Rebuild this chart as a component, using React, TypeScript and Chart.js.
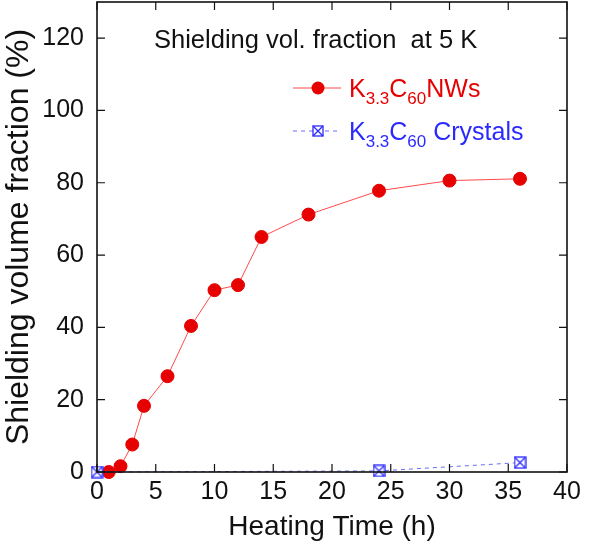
import React, { useEffect, useRef } from "react";
import { Chart, registerables } from "chart.js";
Chart.register(...registerables);

const nwTimes = [1, 2, 3, 4, 6, 8, 10, 12, 14, 18, 24, 30, 36];
const nwValues = [0, 1.6, 7.6, 18.3, 26.5, 40.4, 50.3, 51.7, 65, 71.2, 77.8, 80.6, 81.1];
const crTimes = [0, 24, 36];
const crValues = [0, 0.3, 2.6];
const xTicks = [0, 5, 10, 15, 20, 25, 30, 35, 40];
const yTicks = [0, 20, 40, 60, 80, 100, 120];
const titleText = "Shielding vol. fraction  at 5 K";
const xTitle = "Heating Time (h)";
const yTitle = "Shielding volume fraction (%)";

const FONT = "'Liberation Sans', Arial, Helvetica, sans-serif";
const RED = "#e60000";
const RED_LINE = "#ff4a4a";
const BLUE = "#2a2aff";
const BLUE_LINE = "#6a6aff";

function makeCrossBox(size: number, color: string) {
  const c = document.createElement("canvas");
  c.width = size + 2;
  c.height = size + 2;
  const g = c.getContext("2d")!;
  g.strokeStyle = color;
  g.lineWidth = 1.3;
  g.fillStyle = "#ffffff";
  g.fillRect(1, 1, size, size);
  g.strokeRect(1, 1, size, size);
  g.beginPath();
  g.moveTo(1, 1);
  g.lineTo(1 + size, 1 + size);
  g.moveTo(1 + size, 1);
  g.lineTo(1, 1 + size);
  g.stroke();
  return c;
}

function drawSubText(ctx: CanvasRenderingContext2D, x: number, y: number, parts: [string, boolean][], color: string, big: number, small: number) {
  ctx.fillStyle = color;
  ctx.textBaseline = "alphabetic";
  ctx.textAlign = "left";
  let cx = x;
  for (const [t, sub] of parts) {
    ctx.font = `${sub ? small : big}px ${FONT}`;
    ctx.fillText(t, cx, sub ? y + 7 : y);
    cx += ctx.measureText(t).width;
  }
}

export default function App() {
  const ref = useRef<HTMLCanvasElement | null>(null);
  useEffect(() => {
    document.body.style.margin = "0";
    const crossImg = makeCrossBox(11, BLUE);
    const legendImg = makeCrossBox(10, BLUE);

    const framePlugin = {
      id: "framePlugin",
      afterDatasetsDraw(chart: any) {
        const { ctx, chartArea: a, scales } = chart;
        ctx.save();
        ctx.strokeStyle = "#111";
        ctx.lineWidth = 1.2;
        ctx.beginPath();
        for (const v of xTicks) {
          const px = scales.x.getPixelForValue(v);
          ctx.moveTo(px, a.bottom);
          ctx.lineTo(px, a.bottom - 8);
          ctx.moveTo(px, a.top);
          ctx.lineTo(px, a.top + 8);
        }
        for (const v of yTicks) {
          const py = scales.y.getPixelForValue(v);
          ctx.moveTo(a.left, py);
          ctx.lineTo(a.left + 8, py);
          ctx.moveTo(a.right, py);
          ctx.lineTo(a.right - 8, py);
        }
        ctx.stroke();
        ctx.lineWidth = 1.6;
        ctx.strokeRect(a.left, a.top, a.right - a.left, a.bottom - a.top);
        ctx.restore();
      },
      afterDraw(chart: any) {
        const { ctx } = chart;
        ctx.save();
        ctx.fillStyle = "#111";
        ctx.font = `25.5px ${FONT}`;
        ctx.textAlign = "left";
        ctx.textBaseline = "middle";
        ctx.fillText(titleText, 154, 41);

        // legend red
        ctx.strokeStyle = RED_LINE;
        ctx.lineWidth = 1;
        ctx.beginPath();
        ctx.moveTo(293, 88);
        ctx.lineTo(341, 88);
        ctx.stroke();
        ctx.fillStyle = RED;
        ctx.beginPath();
        ctx.arc(318, 88, 6.5, 0, Math.PI * 2);
        ctx.fill();
        drawSubText(ctx, 349, 97, [["K", false], ["3.3", true], ["C", false], ["60", true], ["NWs", false]], RED, 25, 17);

        // legend blue
        ctx.strokeStyle = BLUE_LINE;
        ctx.setLineDash([4, 4]);
        ctx.beginPath();
        ctx.moveTo(293, 131);
        ctx.lineTo(341, 131);
        ctx.stroke();
        ctx.setLineDash([]);
        ctx.drawImage(legendImg, 318 - 6, 131 - 6);
        drawSubText(ctx, 349, 140, [["K", false], ["3.3", true], ["C", false], ["60", true], [" Crystals", false]], BLUE, 25, 17);
        ctx.restore();
      },
    };

    const chart = new Chart(ref.current!, {
      type: "line",
      data: {
        datasets: [
          {
            label: "K3.3C60 Crystals",
            data: crTimes.map((t, i) => ({ x: t, y: crValues[i] })),
            borderColor: BLUE_LINE,
            borderWidth: 1,
            borderDash: [4, 4],
            pointStyle: crossImg as any,
            pointRadius: 6,
            clip: false as any,
          },
          {
            label: "K3.3C60NWs",
            data: nwTimes.map((t, i) => ({ x: t, y: nwValues[i] })),
            borderColor: RED_LINE,
            borderWidth: 1,
            backgroundColor: RED,
            pointBackgroundColor: RED,
            pointBorderColor: RED,
            pointRadius: 6.5,
            pointStyle: "circle",
            clip: false as any,
          },
        ],
      },
      options: {
        animation: false,
        responsive: false,
        devicePixelRatio: 1,
        layout: { autoPadding: false, padding: { top: 2, right: 33, left: 0, bottom: 0 } },
        plugins: { legend: { display: false }, tooltip: { enabled: false } },
        scales: {
          x: {
            type: "linear",
            min: 0,
            max: 40,
            afterBuildTicks: (s: any) => {
              s.ticks = xTicks.map((v) => ({ value: v }));
            },
            afterFit: (s: any) => {
              s.height = 72;
              s.paddingLeft = 0;
              s.paddingRight = 0;
            },
            grid: { display: false, drawTicks: false },
            border: { display: false },
            ticks: { color: "#111", font: { family: FONT, size: 25 }, padding: 5, maxRotation: 0 },
            title: { display: true, text: xTitle, color: "#111", font: { family: FONT, size: 28 }, padding: { top: 0, bottom: 0 } },
          },
          y: {
            type: "linear",
            min: 0,
            max: 130,
            afterBuildTicks: (s: any) => {
              s.ticks = yTicks.map((v) => ({ value: v }));
            },
            afterFit: (s: any) => {
              s.width = 97;
              s.paddingTop = 0;
              s.paddingBottom = 0;
            },
            grid: { display: false, drawTicks: false },
            border: { display: false },
            ticks: { color: "#111", font: { family: FONT, size: 25 }, padding: 13 },
            title: { display: true, text: yTitle, color: "#111", font: { family: FONT, size: 32 }, padding: { top: 0, bottom: 0 } },
          },
        },
      },
      plugins: [framePlugin],
    } as any);
    return () => chart.destroy();
  }, []);
  return (
    <div style={{ width: 600, height: 544, background: "#fff" }}>
      <canvas ref={ref} width={600} height={544} />
    </div>
  );
}
